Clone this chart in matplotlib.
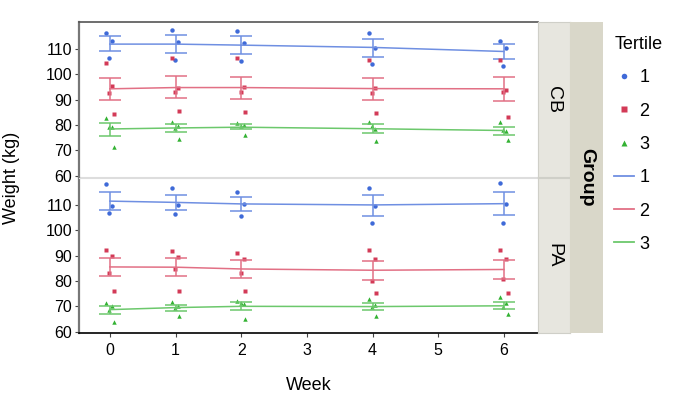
import matplotlib
matplotlib.use("Agg")
import matplotlib.pyplot as plt
from matplotlib.lines import Line2D

plt.rcParams['font.family'] = ['Liberation Sans', 'DejaVu Sans']

weeks = [0, 1, 2, 4, 6]
tertiles = ["1", "2", "3"]
groups = ["CB", "PA"]

# raw points per group / tertile / week
cb_pts = {
    "1": [[116.3, 113.1, 106.4], [117.2, 112.6, 105.7], [116.8, 112.1, 105.0],
          [116.3, 110.3, 104.0], [113.1, 110.3, 103.1]],
    "2": [[104.5, 95.2, 92.7, 84.2], [106.4, 94.6, 93.1, 85.3], [106.2, 95.0, 93.1, 84.9],
          [105.6, 94.7, 92.7, 84.6], [105.7, 93.9, 93.1, 83.3]],
    "3": [[82.8, 79.0, 79.3, 71.3], [81.3, 79.7, 78.6, 74.6], [80.7, 79.8, 79.4, 76.0],
          [81.0, 78.2, 79.5, 73.5], [81.0, 77.8, 78.1, 74.0]],
}
pa_pts = {
    "1": [[118.1, 109.6, 106.8], [116.6, 110.0, 106.2], [115.0, 110.1, 105.7],
          [116.6, 109.6, 102.7], [118.5, 110.1, 102.7]],
    "2": [[92.3, 89.8, 83.0, 76.1], [91.8, 89.6, 84.6, 76.1], [91.1, 88.5, 83.3, 75.9],
          [92.0, 88.8, 79.8, 75.2], [92.0, 88.8, 80.8, 75.2]],
    "3": [[71.2, 70.0, 68.7, 63.9], [71.7, 70.2, 69.3, 66.3], [72.2, 70.8, 71.2, 65.2],
          [72.8, 70.5, 69.9, 66.3], [73.6, 71.2, 69.9, 66.8]],
}

# means and error bar ends
cb_mean = {"1": [111.8, 111.8, 111.4, 110.5, 108.9],
           "2": [94.2, 94.7, 94.7, 94.3, 94.2],
           "3": [78.4, 78.8, 79.1, 78.5, 77.8]}
cb_hi = {"1": [114.8, 115.2, 114.8, 113.8, 111.8],
         "2": [98.4, 99.1, 99.0, 98.5, 98.7],
         "3": [80.6, 80.2, 80.3, 80.3, 79.3]}
cb_lo = {"1": [108.9, 108.4, 107.9, 106.9, 106.0],
         "2": [90.0, 90.4, 90.3, 90.0, 89.5],
         "3": [75.8, 77.1, 78.2, 76.7, 76.2]}
pa_mean = {"1": [111.4, 110.9, 110.3, 109.9, 110.4],
           "2": [85.5, 85.4, 84.7, 84.2, 84.5],
           "3": [68.7, 69.5, 70.0, 69.9, 70.2]}
pa_hi = {"1": [115.0, 113.9, 113.0, 113.8, 115.1],
         "2": [89.0, 88.9, 88.1, 88.0, 88.1],
         "3": [70.2, 70.7, 71.6, 71.3, 71.7]}
pa_lo = {"1": [108.0, 107.8, 107.5, 105.6, 106.0],
         "2": [81.8, 82.1, 81.2, 80.2, 80.6],
         "3": [67.0, 68.3, 68.5, 68.7, 69.0]}

pt_col = {"1": "#3f6ad8", "2": "#d33a57", "3": "#33b233"}
ln_col = {"1": "#6f8fe2", "2": "#e27085", "3": "#6cc86c"}
markers = {"1": "o", "2": "s", "3": "^"}
jit = [-0.06, 0.04, -0.01, 0.06]

W, H = 700, 399
fig = plt.figure(figsize=(7, 3.99), dpi=100)


def box(x0, y0, x1, y1):
    return [x0 / W, 1 - y1 / H, (x1 - x0) / W, (y1 - y0) / H]


ax_top = fig.add_axes(box(79, 22, 538, 177))
ax_bot = fig.add_axes(box(79, 178, 538, 333))

panels = [(ax_top, cb_pts, cb_mean, cb_hi, cb_lo), (ax_bot, pa_pts, pa_mean, pa_hi, pa_lo)]
for ax, pts, mean, hi, lo in panels:
    for t in tertiles:
        for i, w in enumerate(weeks):
            vals = pts[t][i]
            xs = [w + jit[k] for k in range(len(vals))]
            ax.plot(xs, vals, ls="none", marker=markers[t], ms=3.2,
                    color=pt_col[t], mec="none")
        ax.plot(weeks, mean[t], color=ln_col[t], lw=1.1)
        yerr = [[m - l for m, l in zip(mean[t], lo[t])],
                [h - m for m, h in zip(mean[t], hi[t])]]
        ax.errorbar(weeks, mean[t], yerr=yerr, fmt="none", ecolor=ln_col[t],
                    elinewidth=1.1, capsize=8, capthick=1.1)
    ax.set_xlim(-0.47, 6.52)
    ax.set_ylim(59.5, 120.5)
    ax.set_yticks([60, 70, 80, 90, 100, 110])
    ax.tick_params(labelsize=11.5, length=3, color="#444444", pad=2)
    for s in ["top", "right"]:
        ax.spines[s].set_color("#dddddd")
    ax.spines["left"].set_color("#777777")
    ax.spines["left"].set_linewidth(1.6)

ax_top.spines["top"].set_color("#555555")
ax_top.spines["top"].set_linewidth(1.2)
ax_top.spines["bottom"].set_color("#dddddd")
ax_top.tick_params(axis="x", bottom=False, labelbottom=False)
ax_bot.set_xticks(range(7))
ax_bot.spines["bottom"].set_color("black")
ax_bot.spines["bottom"].set_linewidth(1.2)
ax_bot.tick_params(axis="x", pad=4)
ax_bot.set_xlabel("Week", fontsize=13, labelpad=14)
fig.text(12 / W, 1 - 178 / H, "Weight (kg)", rotation=90, fontsize=13,
         va="center", ha="center")

# facet strips
for (y0, y1), g in zip([(22, 177), (178, 333)], groups):
    s = fig.add_axes(box(538, y0, 570, y1))
    s.set_facecolor("#e7e6df")
    s.set_xticks([])
    s.set_yticks([])
    for sp in s.spines.values():
        sp.set_color("#cfcfc8")
    s.text(0.5, 0.5, g, rotation=-90, ha="center", va="center",
           fontsize=14, transform=s.transAxes)
sg = fig.add_axes(box(570, 22, 603, 333))
sg.set_facecolor("#d9d7c9")
sg.set_xticks([])
sg.set_yticks([])
for sp in sg.spines.values():
    sp.set_visible(False)
sg.text(0.5, 0.5, "Group", rotation=-90, ha="center", va="center",
        fontsize=14, fontweight="bold", transform=sg.transAxes)

handles = [Line2D([], [], ls="none", marker=markers[t], ms=4, color=pt_col[t],
                  mec="none") for t in tertiles]
handles += [Line2D([], [], color=ln_col[t], lw=1.3) for t in tertiles]
leg = fig.legend(handles, tertiles + tertiles, title="Tertile", frameon=False,
                 loc="upper left", bbox_to_anchor=(598 / W, 1 - 20 / H),
                 fontsize=13, title_fontsize=13, labelspacing=0.9,
                 handlelength=1.1, handletextpad=0.3, alignment="left")

fig.savefig("out.png", dpi=100)
